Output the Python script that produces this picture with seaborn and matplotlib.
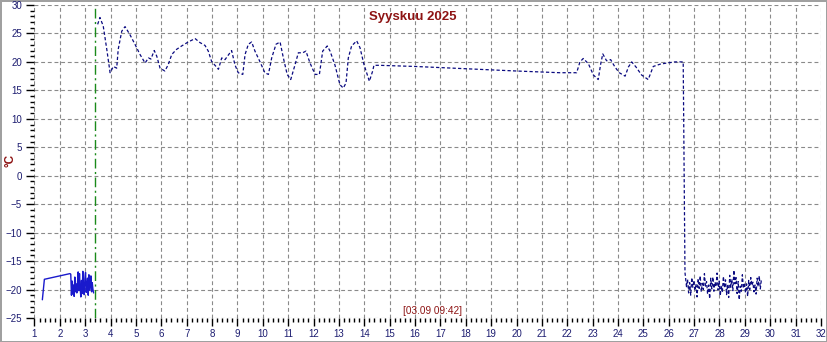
import numpy as np
import pandas as pd
import matplotlib
matplotlib.use("Agg")
import matplotlib.pyplot as plt
from matplotlib.ticker import MultipleLocator
import seaborn as sns

# ---------------- data ----------------
title = "Syyskuu 2025"
ylabel = "°C"
marker_label = "[03.09 09:42]"
marker_day = 3 + (9 + 42 / 60) / 24

# segment 1 (solid): early readings
seg1_days = [1.31, 1.39, 2.40]
seg1_vals = [-21.8, -18.2, -17.2]
seg1_noise_start, seg1_noise_end = 2.43, 3.33
seg1_noise = [-17.3, -21.0, -18.5, -20.8, -19.2, -21.2, -17.8, -20.4, -19.0, -20.6,
              -18.9, -16.9, -20.2, -17.2, -19.8, -21.3, -18.4, -20.7, -16.8, -19.5,
              -20.9, -18.1, -17.0, -20.5, -19.3, -18.0, -21.0, -17.4, -20.1, -19.0,
              -17.6, -20.4, -18.8, -19.9, -20.6]

# segment 2 (dashed): main series
main_days = [3.49, 3.58, 3.71, 3.85, 3.98, 4.11, 4.24, 4.30, 4.44, 4.57, 4.76, 4.96,
             5.16, 5.36, 5.49, 5.59, 5.72, 5.82, 5.95, 6.14, 6.27, 6.41, 6.60, 6.80,
             7.06, 7.33, 7.52, 7.72, 7.85, 7.98, 8.25, 8.38, 8.51, 8.77, 8.90, 9.03,
             9.21, 9.30, 9.43, 9.56, 9.69, 9.88, 10.08, 10.22, 10.35, 10.52, 10.68,
             10.81, 10.96, 11.10, 11.27, 11.40, 11.57, 11.70, 11.86, 12.06, 12.23,
             12.36, 12.54, 12.65, 12.84, 13.04, 13.17, 13.28, 13.37, 13.50, 13.70,
             13.83, 13.99, 14.20, 14.33, 14.38, 14.60, 16.0, 18.5, 20.0, 21.7, 22.37,
             22.50, 22.63, 22.83, 23.03, 23.22, 23.32, 23.40, 23.55, 23.71, 23.88,
             24.05, 24.28, 24.41, 24.54, 24.71, 24.93, 25.19, 25.39, 25.66, 25.92,
             26.25, 26.57, 26.64]
main_vals = [26.6, 27.8, 26.3, 22.2, 18.1, 19.2, 18.9, 22.2, 25.4, 26.2, 24.8, 23.1,
             21.3, 19.8, 20.7, 20.5, 22.0, 21.0, 18.9, 18.4, 19.5, 21.3, 22.2, 22.8,
             23.5, 24.1, 23.4, 22.9, 21.9, 20.1, 18.7, 20.7, 20.4, 22.0, 19.5, 18.1,
             17.8, 21.3, 23.1, 23.5, 21.9, 20.1, 18.1, 17.8, 20.7, 23.1, 23.5,
             20.7, 17.8, 16.9, 19.5, 21.6, 21.6, 21.9, 19.8, 17.8, 17.8,
             21.9, 22.8, 21.9, 19.5, 16.0, 15.4, 16.3, 20.7, 22.8, 23.7,
             22.5, 19.5, 16.6, 18.4, 19.4, 19.4, 19.2, 18.7, 18.4, 18.1, 18.1,
             20.0, 20.6, 19.7, 17.7, 16.9, 19.7, 21.4, 20.2, 20.4, 19.1,
             18.1, 17.5, 19.1, 20.0, 19.1, 17.7, 16.9, 19.2, 19.6, 19.8,
             20.0, 20.0, -17.0]
main_noise_start, main_noise_end = 26.70, 29.65
main_noise = [-19.5, -18.2, -20.6, -18.8, -21.0, -17.9, -19.6, -18.4, -20.2, -19.0,
              -21.3, -18.1, -19.8, -17.6, -20.4, -18.9, -20.0, -17.2, -19.4, -18.6,
              -20.8, -19.2, -21.6, -18.0, -19.9, -17.8, -20.3, -18.7, -19.5, -17.1,
              -20.1, -18.5, -21.1, -19.3, -20.5, -17.7, -19.7, -18.3, -20.9, -19.1,
              -21.4, -17.5, -19.6, -18.2, -20.2, -16.6, -19.0, -17.9, -20.7, -18.6,
              -21.8, -19.4, -20.3, -17.4, -19.8, -18.8, -20.6, -19.0, -21.2, -18.4,
              -20.0, -17.9, -19.3, -18.7, -20.4, -19.2, -20.8, -18.0, -19.5, -17.6,
              -19.9, -18.3]

x_ticks = list(range(1, 33))
y_ticks = list(range(-25, 31, 5))

# ---------------- build tables ----------------
s1_days = seg1_days + list(np.linspace(seg1_noise_start, seg1_noise_end, len(seg1_noise)))
s1_vals = seg1_vals + seg1_noise
df1 = pd.DataFrame({"day": s1_days, "temp": s1_vals})

s2_days = main_days + list(np.linspace(main_noise_start, main_noise_end, len(main_noise)))
s2_vals = main_vals + main_noise
df2 = pd.DataFrame({"day": s2_days, "temp": s2_vals})

# ---------------- plot ----------------
sns.set_style("white")
plt.rcParams["font.family"] = ["Liberation Sans", "DejaVu Sans"]

fig = plt.figure(figsize=(8.27, 3.42), dpi=100)
fig.patch.set_facecolor("white")
fig.patch.set_edgecolor("#a0a0a0")
fig.patch.set_linewidth(2)
ax = fig.add_axes([0.0417, 0.0702, 0.951, 0.9152])

grid_kw = dict(color="#8a8a8a", lw=0.8, dashes=(3.5, 2.5), zorder=0)
for xv in x_ticks:
    ax.axvline(xv, **grid_kw)
for yv in y_ticks:
    ax.axhline(yv, **grid_kw)

sns.lineplot(data=df1, x="day", y="temp", ax=ax, color="#1a1acc", lw=1.0,
             estimator=None, sort=False, zorder=3)
sns.lineplot(data=df2, x="day", y="temp", ax=ax, color="#0a0a80", lw=0.9,
             estimator=None, sort=False, zorder=3, dashes=False,
             linestyle=(0, (2.6, 1.8)))

ax.axvline(marker_day, color="#1a8a1a", lw=1.0, dashes=(7, 2.5, 1.5, 2.5), zorder=4)

ax.set_xlim(1, 32)
ax.set_ylim(-25, 30)
ax.xaxis.set_major_locator(MultipleLocator(1))
ax.xaxis.set_minor_locator(MultipleLocator(0.2))
ax.yaxis.set_major_locator(MultipleLocator(5))
ax.yaxis.set_minor_locator(MultipleLocator(1))
for s in ax.spines.values():
    s.set_visible(False)

lab_col = "#1c1c70"
ax.tick_params(axis="both", which="both", bottom=True, left=True, top=False,
               right=False, direction="out")
ax.tick_params(axis="both", which="major", length=6, width=1.0, color="black",
               labelsize=7, labelcolor=lab_col)
ax.tick_params(axis="both", which="minor", length=3, width=1.0, color="black")
ax.tick_params(axis="x", which="major", pad=2)
ax.tick_params(axis="y", which="major", pad=3)
ax.set_xticks(x_ticks)
ax.set_yticks(y_ticks)
ax.set_xlabel("")
ax.set_ylabel("")

red = "#8e1414"
fig.text(413 / 827, 1 - 17 / 342, title, ha="center", va="center",
         fontsize=9.5, fontweight="bold", color=red)
fig.text(10 / 827, 1 - 160 / 342, ylabel, ha="center", va="center", rotation=90,
         fontsize=8.5, fontweight="bold", color=red)
ax.text(16.7, -23.8, marker_label, ha="center", va="center", fontsize=7.2,
        color=red)

fig.savefig("out.png", dpi=100)
